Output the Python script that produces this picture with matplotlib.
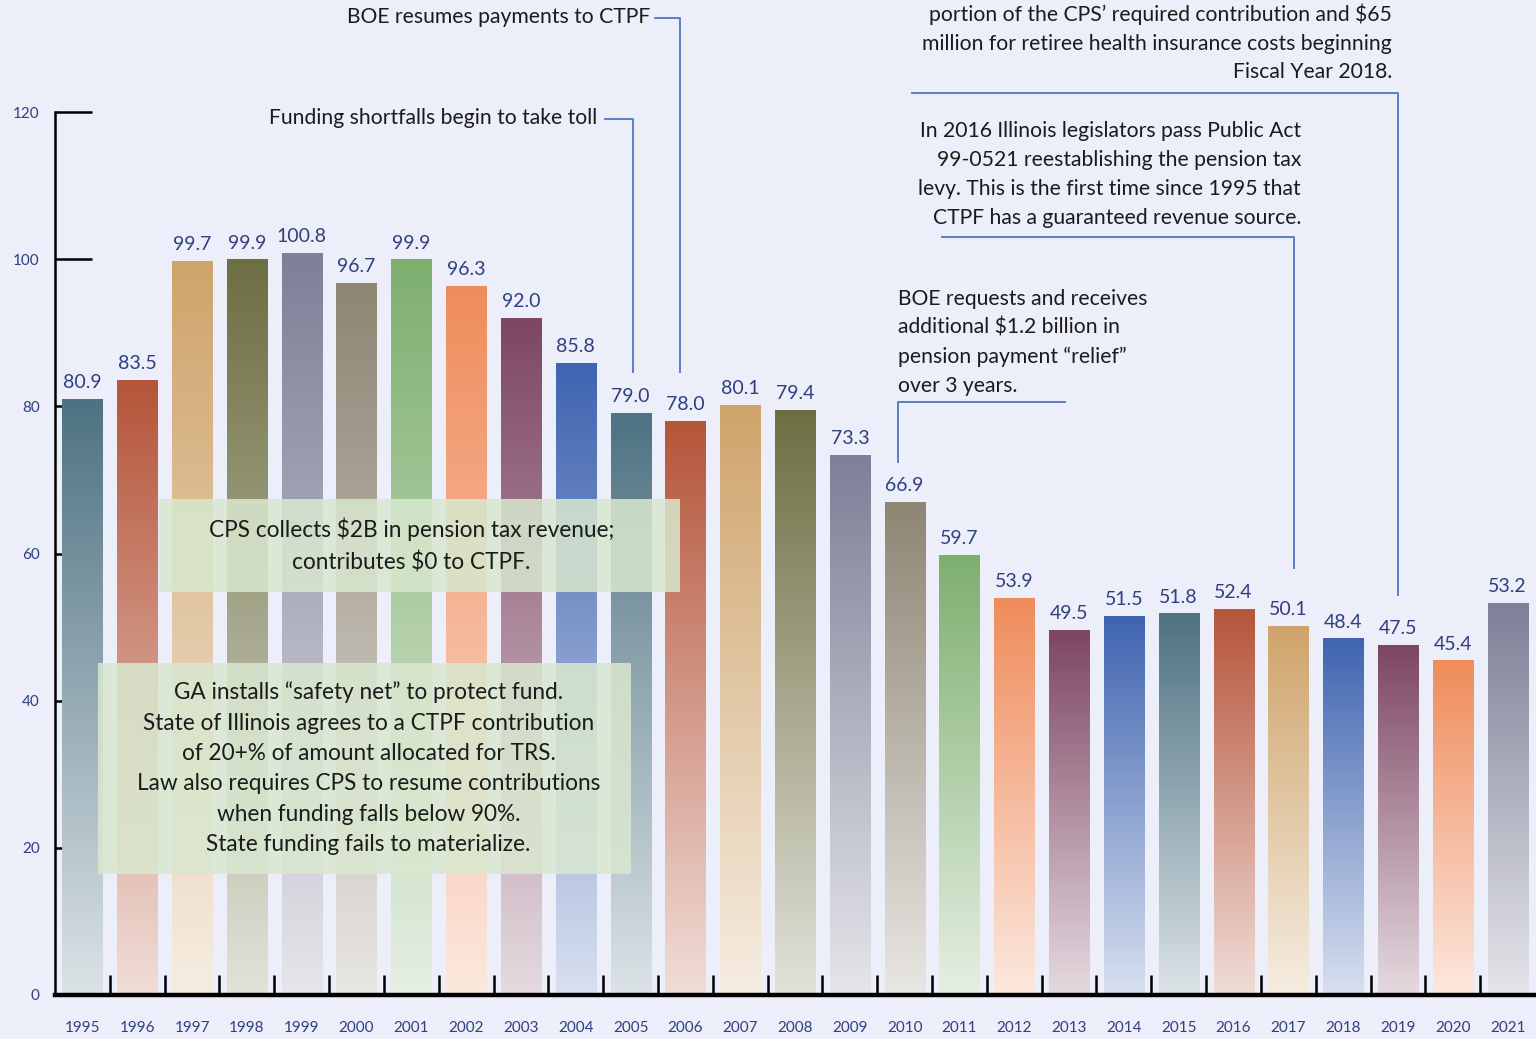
import matplotlib
matplotlib.use("Agg")
import matplotlib.pyplot as plt
import matplotlib.colors as mcolors
import numpy as np

# ---- data ----
years = [str(y) for y in range(1995, 2022)]
funded = [80.9, 83.5, 99.7, 99.9, 100.8, 96.7, 99.9, 96.3, 92.0, 85.8,
          79.0, 78.0, 80.1, 79.4, 73.3, 66.9, 59.7, 53.9, 49.5, 51.5,
          51.8, 52.4, 50.1, 48.4, 47.5, 45.4, 53.2]
bar_colors = ["#4e7282", "#b5553a", "#cfa46b", "#6d6e42", "#7d8097",
              "#8e8574", "#7eaf6f", "#ef8c5b", "#7d4662", "#3f64b0",
              "#4e7282", "#b5553a", "#cfa46b", "#6d6e42", "#7d8097",
              "#8e8574", "#7eaf6f", "#ef8c5b", "#7d4662", "#3f64b0",
              "#4e7282", "#b5553a", "#cfa46b", "#3f64b0", "#7d4662",
              "#ef8c5b", "#7d8097"]
yticks = [0, 20, 40, 60, 80, 100, 120]

BG = "#eceef9"
NAVY = "#2f3f80"
LINE = "#5a7fc8"
TXT = "#1b1b1b"
BOX = "#d9e8cf"

plt.rcParams["font.family"] = ["Lato", "DejaVu Sans"]


def main():
    fig = plt.figure(figsize=(15.36, 10.39), dpi=100, facecolor=BG)
    ax = fig.add_axes([55 / 1536, 44 / 1039, 1480 / 1536, 883 / 1039])
    ax.set_facecolor(BG)
    ax.set_axisbelow(True)

    x = np.arange(len(years))
    w = 0.73
    grad = np.linspace(1, 0, 256).reshape(-1, 1)
    for xi, h, c in zip(x, funded, bar_colors):
        top = np.array(mcolors.to_rgb(c))
        bottom = top + (1 - top) * 0.80
        cmap = mcolors.LinearSegmentedColormap.from_list("g", [bottom, top])
        ax.imshow(grad, extent=(xi - w / 2, xi + w / 2, 0, h), aspect="auto",
                  cmap=cmap, zorder=2, interpolation="bicubic")
        ax.annotate(f"{h:.1f}", (xi, h), xytext=(0, 6), textcoords="offset points",
                    ha="center", va="bottom", fontsize=14, color=NAVY, zorder=5)

    ax.set_xlim(-0.5, len(years) - 0.5)
    ax.set_ylim(0, 120)

    for s in ["top", "right"]:
        ax.spines[s].set_visible(False)
    ax.spines["left"].set_linewidth(1.8)
    ax.spines["bottom"].set_linewidth(3.2)

    ax.set_yticks(yticks)
    ax.set_yticklabels([str(v) for v in yticks])
    ax.tick_params(axis="y", direction="in", length=26.5, width=1.8,
                   pad=11, labelsize=11, labelcolor=NAVY)
    ax.set_xticks(x)
    ax.set_xticklabels(years)
    ax.set_xticks(x[:-1] + 0.5, minor=True)
    ax.tick_params(axis="x", which="major", length=0, pad=19,
                   labelsize=11, labelcolor=NAVY)
    ax.tick_params(axis="x", which="minor", direction="in", length=14.5,
                   width=1.8)

    # ---- annotation boxes ----
    bkw = dict(ha="center", va="center", fontsize=16.3, color=TXT,
               linespacing=1.55, zorder=4)
    ax.fill_between([1.39, 10.91], 54.8, 67.4, color=BOX, alpha=0.85,
                    zorder=3, lw=0)
    ax.text(6.0, 61.1, "CPS collects $2B in pension tax revenue;\ncontributes $0 to CTPF.",
            **bkw)
    ax.fill_between([0.29, 10.0], 16.4, 45.1, color=BOX, alpha=0.85,
                    zorder=3, lw=0)
    ax.text(5.22, 30.8,
            "GA installs \u201csafety net\u201d to protect fund.\n"
            "State of Illinois agrees to a CTPF contribution\n"
            "of 20+% of amount allocated for TRS.\n"
            "Law also requires CPS to resume contributions\n"
            "when funding falls below 90%.\n"
            "State funding fails to materialize.",
            **bkw)

    # ---- callouts ----
    kw = dict(color=LINE, lw=1.4, clip_on=False, zorder=4)
    tkw = dict(fontsize=15.2, color=TXT, clip_on=False, zorder=4, linespacing=1.55)

    ax.text(10.36, 132.9, "BOE resumes payments to CTPF", ha="right", va="center", **tkw)
    ax.plot([10.45, 10.91, 10.91], [132.8, 132.8, 84.7], **kw)

    ax.text(9.40, 119.2, "Funding shortfalls begin to take toll", ha="right", va="center", **tkw)
    ax.plot([9.54, 10.05, 10.05], [119.05, 119.05, 84.7], **kw)

    ax.text(23.89, 129.4,
            "portion of the CPS\u2019 required contribution and $65\n"
            "million for retiree health insurance costs beginning\n"
            "Fiscal Year 2018.",
            ha="right", va="center", multialignment="right", **tkw)
    ax.plot([15.13, 24.0, 24.0], [122.6, 122.6, 54.4], **kw)

    ax.text(22.23, 111.5,
            "In 2016 Illinois legislators pass Public Act\n"
            "99-0521 reestablishing the pension tax\n"
            "levy. This is the first time since 1995 that\n"
            "CTPF has a guaranteed revenue source.",
            ha="right", va="center", multialignment="right", **tkw)
    ax.plot([15.69, 22.1, 22.1], [103.0, 103.0, 58.0], **kw)

    ax.text(14.87, 88.7,
            "BOE requests and receives\n"
            "additional $1.2 billion in\n"
            "pension payment \u201crelief\u201d\n"
            "over 3 years.",
            ha="left", va="center", **tkw)
    ax.plot([17.92, 14.87, 14.87], [80.6, 80.6, 72.4], **kw)

    fig.savefig("out.png", dpi=100, facecolor=BG)


if __name__ == "__main__":
    main()
